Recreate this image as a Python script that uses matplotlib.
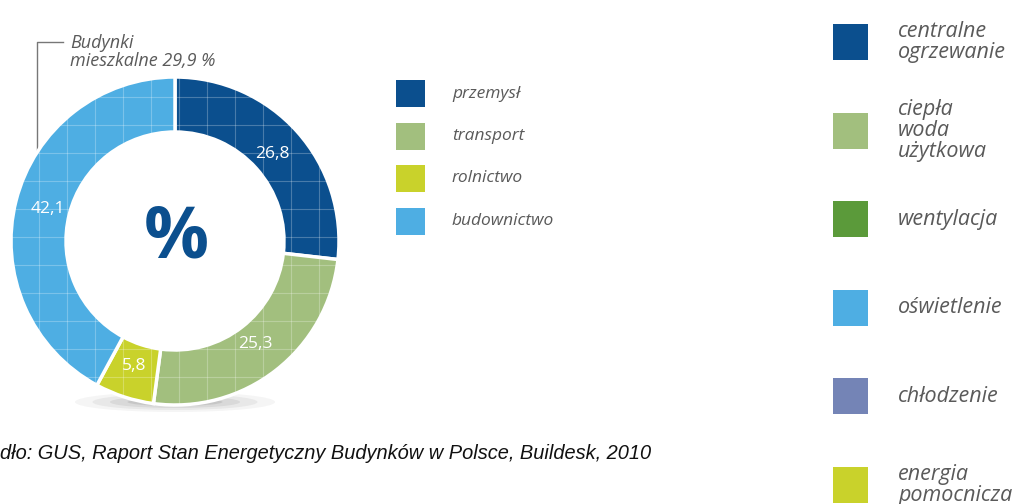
import matplotlib.pyplot as plt
from matplotlib.patches import Rectangle, Ellipse

# data
sectors = ['przemysł', 'transport', 'rolnictwo', 'budownictwo']
shares = [26.8, 25.3, 5.8, 42.1]
sector_colors = ['#0b4f8e', '#a2bf7e', '#c9d22b', '#4eaee3']

uses = ['centralne\nogrzewanie', 'ciepła\nwoda\nużytkowa', 'wentylacja',
        'oświetlenie', 'chłodzenie', 'energia\npomocnicza']
use_colors = ['#0b4f8e', '#a2bf7e', '#5b9a3a', '#4eaee3', '#7484b6', '#c9d22b']

note = 'Budynki\nmieszkalne 29,9 %'
source = 'Źródło: GUS, Raport Stan Energetyczny Budynków w Polsce, Buildesk, 2010'

W, H = 1022, 504
GRAY = '#5a5a5a'
LABEL_FONT = 'Open Sans'


def py(y):
    # image pixel row -> data y
    return H - y


fig = plt.figure(figsize=(W / 100, H / 100), dpi=100)
ax = fig.add_axes([0, 0, 1, 1])

cx, cy, R = 175, py(241), 164

# soft shadow under the ring
for i, a in enumerate([0.05, 0.07, 0.09, 0.12]):
    ax.add_patch(Ellipse((cx, py(402)), 200 - i * 35, 20 - i * 4,
                         facecolor='#444444', alpha=a, edgecolor='none', zorder=0))

wedges, _, autotexts = ax.pie(
    shares, colors=sector_colors, startangle=90, counterclock=False,
    center=(cx, cy), radius=R, frame=True,
    wedgeprops=dict(width=55, edgecolor='white', linewidth=2.5),
    autopct=lambda p: f'{p:.1f}'.replace('.', ','), pctdistance=0.8,
    textprops=dict(color='white', fontsize=12.5, family=LABEL_FONT))

# faint grid texture on the ring
for w in wedges:
    w.set_zorder(2)
    for gx in range(cx - R, cx + R, 28):
        ln, = ax.plot([gx, gx], [cy - R, cy + R], color='white', lw=0.8,
                      alpha=0.25, zorder=3)
        ln.set_clip_path(w)
    for gy in range(cy - R, cy + R, 28):
        ln, = ax.plot([cx - R, cx + R], [gy, gy], color='white', lw=0.8,
                      alpha=0.25, zorder=3)
        ln.set_clip_path(w)
for t in autotexts:
    t.set_zorder(5)

ax.text(cx + 1, py(238), '%', ha='center', va='center', fontsize=52,
        fontweight='bold', color='#0b4f8e', family=LABEL_FONT, zorder=5)

# leader line and note
ax.plot([37, 37, 63], [py(152), py(42), py(42)], color='#777777', lw=1, zorder=1)
ax.text(70, py(52), note, ha='left', va='center', fontsize=13, style='italic',
        color=GRAY, family=LABEL_FONT, linespacing=1.0)

# middle legend
for i, (lab, col) in enumerate(zip(sectors, sector_colors)):
    top = 80 + i * 42.5
    ax.add_patch(Rectangle((396, py(top + 27)), 29, 27, facecolor=col,
                           edgecolor='none'))
    ax.text(452, py(top + 13.5), lab, ha='left', va='center', fontsize=12.5,
            style='italic', color=GRAY, family=LABEL_FONT)

# right legend
for i, (lab, col) in enumerate(zip(uses, use_colors)):
    top = 24 + i * 88.6
    ax.add_patch(Rectangle((833, py(top + 36)), 35, 36, facecolor=col,
                           edgecolor='none'))
    ax.text(898, py(top + 18), lab, ha='left', va='center', fontsize=15.5,
            style='italic', color=GRAY, family=LABEL_FONT, linespacing=1.0)

# source line runs off the left edge, as in the original
ax.text(652, py(452), source, ha='right', va='center', fontsize=14.4,
        style='italic', color='#111111', family='Liberation Sans')

ax.set_xlim(0, W)
ax.set_ylim(0, H)
ax.set_aspect('auto')
ax.axis('off')

fig.savefig('out.png', dpi=100, facecolor='white')
